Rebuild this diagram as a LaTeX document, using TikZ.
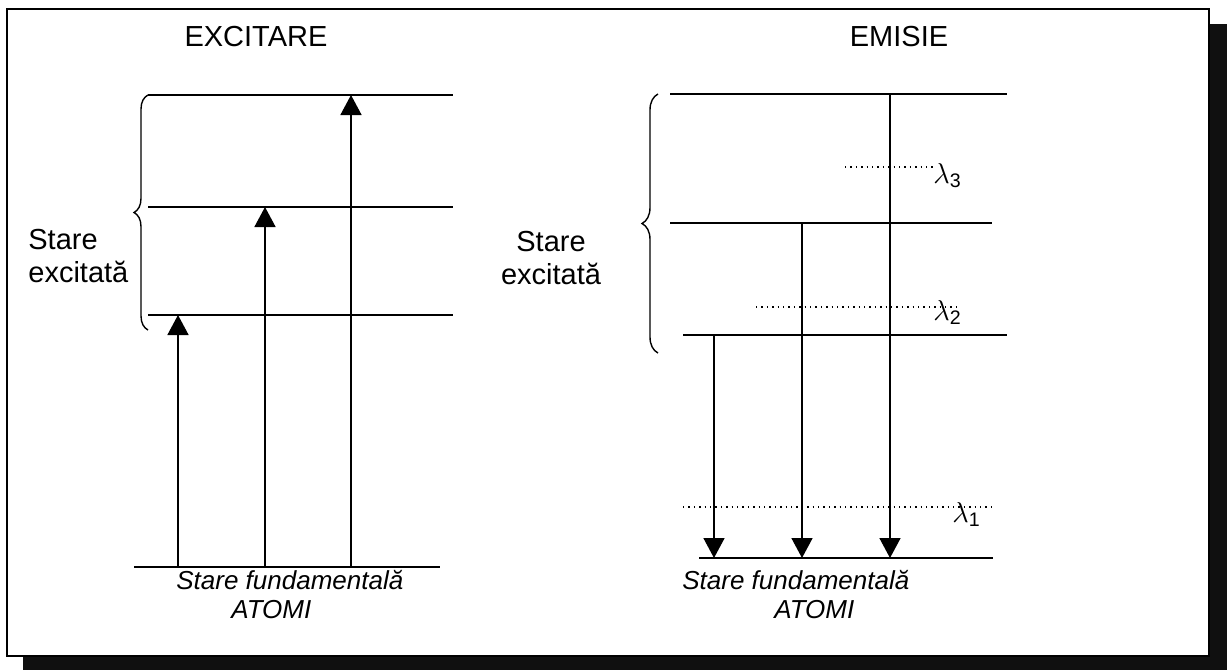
\documentclass[tikz,border=0pt]{standalone}
\usepackage{amsmath}
\usepackage{fontspec}
\setmainfont{Liberation Sans}
\usetikzlibrary{positioning,arrows.meta,decorations.pathreplacing}
\definecolor{dropgray}{HTML}{101010}

\begin{document}
\begin{tikzpicture}[x=0.5pt, y=-0.5pt, >={Triangle[length=10pt,width=10.5pt]},
    level/.style={line width=1pt},
    jump/.style={->, line width=0.8pt},
    photon/.style={dotted, line width=0.7pt},
    curly/.style={decorate, decoration={brace, amplitude=#1}, line width=0.7pt},
    head/.style={font=\fontsize{14.5}{17}\selectfont},
    side/.style={font=\fontsize{14.5}{16.5}\selectfont, inner sep=0pt},
    ground/.style={font=\fontsize{13}{14.5}\selectfont\itshape, align=left, inner sep=0pt, anchor=north west},
    lam/.style={font=\fontsize{14}{16}\selectfont, inner sep=0pt, anchor=north west}]
  \useasboundingbox (0,0) rectangle (1227,670);

  % frame with its shadow
  \fill[dropgray] (1209,24) rectangle (1227,670);
  \fill[dropgray] (23,656) rectangle (1227,670);
  \draw[line width=1pt, fill=white] (7,9) rectangle (1209,656);

  % excitation side
  \node[head] (exc) at (256,37) {EXCITARE};
  \draw[level] (148,95) -- (453,95);
  \draw[level] (148,207) -- (453,207);
  \draw[level] (148,315) -- (453,315);
  \draw[level] (134,567) -- (440,567);
  \draw[curly=7pt] (148,330) -- (148,95);
  \node[side, anchor=west, align=left] (se1) at (28,256.5) {Stare\\excitată};
  \foreach \x/\y [count=\i] in {178/315, 265/207, 351/95} {
    \coordinate (gA\i) at (\x,567);
    \coordinate (eA\i) at (\x,\y);
    \draw[jump] (gA\i) -- (eA\i);
  }
  \node[ground] (sf1) at (176,570) {Stare fundamentală\\\hspace*{27.5pt}ATOMI};

  % emission side
  \node[head] (emi) at (899,37) {EMISIE};
  \draw[level] (670,94) -- (1007,94);
  \draw[level] (670,223) -- (992,223);
  \draw[level] (683,335) -- (1007,335);
  \draw[level] (699,558) -- (993,558);
  \draw[curly=8pt] (658,353) -- (658,94);
  \node[side, align=center] (se2) at (551,258) {Stare\\excitată};
  \foreach \x/\y [count=\i] in {714/335, 802/223, 890/94} {
    \coordinate (eB\i) at (\x,\y);
    \coordinate (gB\i) at (\x,558);
    \draw[jump] (eB\i) -- (gB\i);
  }
  \node[ground] (sf2) at (682,570) {Stare fundamentală\\\hspace*{46pt}ATOMI};

  % emitted lines
  \draw[photon] (845,167) -- (934,167);
  \draw[photon] (756,307) -- (961,307);
  \draw[photon] (683,507) -- (993,507);
  \node[lam] (l3) at (933,163) {$\lambda_{\text{3}}$};
  \node[lam] (l2) at (933,300) {$\lambda_{\text{2}}$};
  \node[lam] (l1) at (952,502) {$\lambda_{\text{1}}$};
\end{tikzpicture}
\end{document}
